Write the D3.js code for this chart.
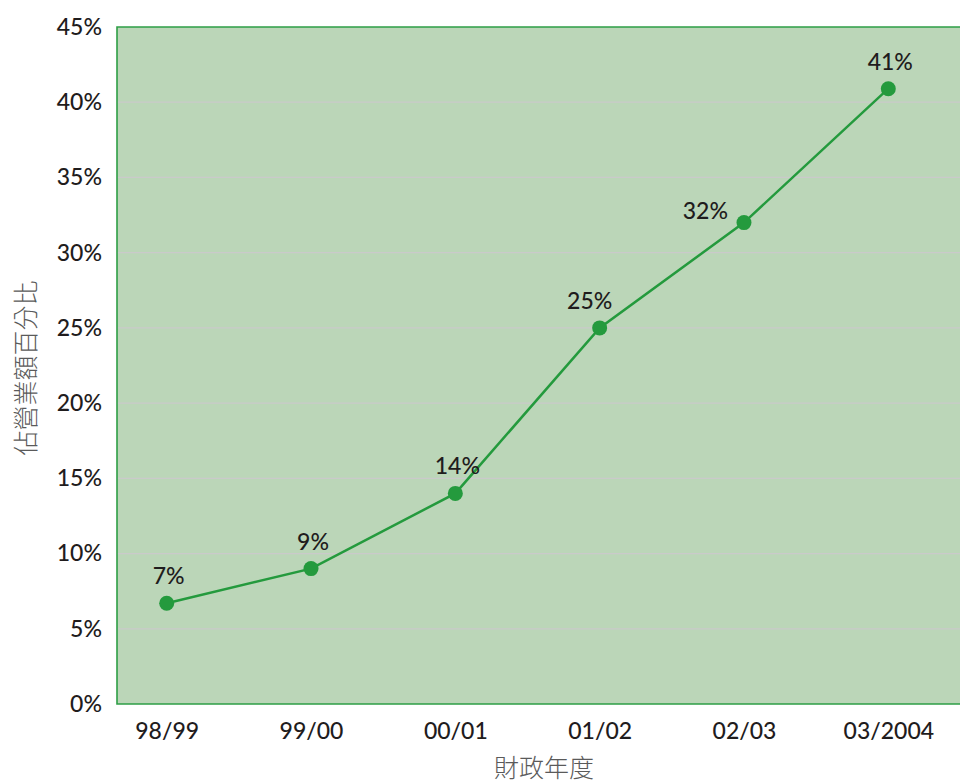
<!DOCTYPE html>
<html>
<head>
<meta charset="utf-8">
<script src="https://cdn.jsdelivr.net/npm/d3@7"></script>
<style>
  body { margin: 0; background: #fff; }
  svg { display: block; }
  .tick text { font-family: Lato, "Open Sans", sans-serif; font-size: 23px; font-weight: 500; fill: #1f1c1d; }
  .title { font-family: "Noto Sans CJK TC", sans-serif; font-size: 25px; font-weight: 300; fill: #5a5a5a; }
  .val { font-family: Lato, "Open Sans", sans-serif; font-size: 23px; font-weight: 500; fill: #1f1c1d; }
</style>
</head>
<body>
<svg id="chart" width="960" height="784"></svg>
<script>
// data
var years = ["98/99", "99/00", "00/01", "01/02", "02/03", "03/2004"];
var shares = [6.7, 9, 14, 25, 32, 40.9];
var shareLabels = ["7%", "9%", "14%", "25%", "32%", "41%"];
var labelSide = ["above", "above", "above", "aboveLeft", "left", "above"];
var yTicks = [0, 5, 10, 15, 20, 25, 30, 35, 40, 45];

var plot = { left: 117, top: 27, right: 960, bottom: 704 };

var svg = d3.select("#chart");

var x = d3.scalePoint()
	.domain(years)
	.range([166.7, 888.3]);

var y = d3.scaleLinear()
	.domain([0, 45])
	.range([plot.bottom, plot.top]);

// plot background
svg.append("rect")
	.attr("x", plot.left)
	.attr("y", plot.top)
	.attr("width", plot.right - plot.left)
	.attr("height", plot.bottom - plot.top)
	.attr("fill", "#bbd6b8");

// gridlines
svg.append("g")
	.selectAll("line")
	.data(yTicks.filter(function(d) { return d > 0 && d < 45; }))
	.join("line")
	.attr("x1", plot.left)
	.attr("x2", plot.right)
	.attr("y1", function(d) { return y(d); })
	.attr("y2", function(d) { return y(d); })
	.attr("stroke", "#cacaca")
	.attr("stroke-width", 1.2);

// border left/top/bottom
var border = "#2e9e45";
svg.append("path")
	.attr("d", "M" + plot.right + "," + plot.top + "H" + plot.left + "V" + plot.bottom + "H" + plot.right)
	.attr("fill", "none")
	.attr("stroke", border)
	.attr("stroke-width", 1.6);

// y axis
var yAxis = svg.append("g")
	.attr("transform", "translate(" + plot.left + ",0)")
	.call(d3.axisLeft(y).tickValues(yTicks).tickFormat(function(d) { return d + "%"; }).tickSize(0).tickPadding(15));
yAxis.select(".domain").remove();

// x axis
var xAxis = svg.append("g")
	.attr("transform", "translate(0," + plot.bottom + ")")
	.call(d3.axisBottom(x).tickSize(0).tickPadding(19));
xAxis.select(".domain").remove();
xAxis.selectAll(".tick text").attr("dy", "0.71em");

// line
var pts = years.map(function(d, i) { return [d, shares[i]]; });
svg.append("path")
	.datum(pts)
	.attr("fill", "none")
	.attr("stroke", "#249a3d")
	.attr("stroke-width", 2.5)
	.attr("d", d3.line()
		.x(function(d) { return x(d[0]); })
		.y(function(d) { return y(d[1]); }));

svg.append("g")
	.selectAll("circle")
	.data(pts)
	.join("circle")
	.attr("cx", function(d) { return x(d[0]); })
	.attr("cy", function(d) { return y(d[1]); })
	.attr("r", 7.5)
	.attr("fill", "#249a3d");

// value labels
svg.append("g")
	.selectAll("text")
	.data(pts)
	.join("text")
	.attr("class", "val")
	.attr("x", function(d, i) {
		var s = labelSide[i];
		if (s === "left") return x(d[0]) - 16;
		if (s === "aboveLeft") return x(d[0]) - 10;
		return x(d[0]) + 2;
	})
	.attr("y", function(d, i) {
		return labelSide[i] === "left" ? y(d[1]) - 4 : y(d[1]) - 19;
	})
	.attr("text-anchor", function(d, i) { return labelSide[i] === "left" ? "end" : "middle"; })
	.text(function(d, i) { return shareLabels[i]; });

// axis titles
svg.append("text")
	.attr("class", "title")
	.attr("transform", "translate(24,368) rotate(-90)")
	.attr("text-anchor", "middle")
	.attr("dominant-baseline", "central")
	.text("佔營業額百分比");

svg.append("text")
	.attr("class", "title")
	.attr("x", 544)
	.attr("y", 766)
	.attr("text-anchor", "middle")
	.attr("dominant-baseline", "central")
	.text("財政年度");
</script>
</body>
</html>
